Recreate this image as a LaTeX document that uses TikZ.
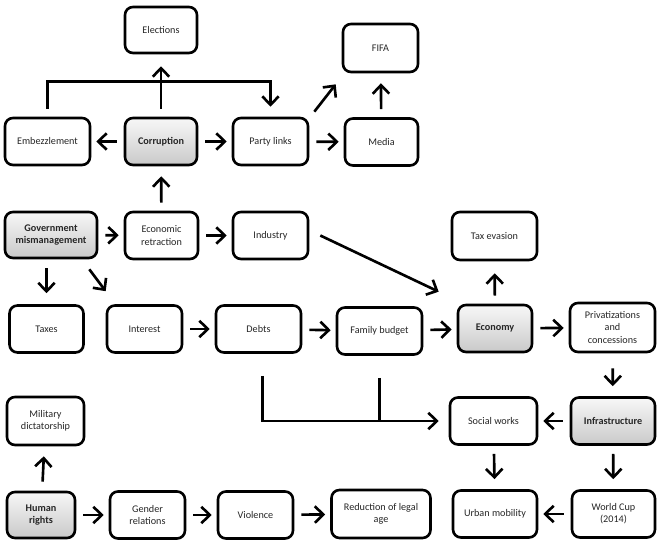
\documentclass[tikz,border=0pt]{standalone}
\usepackage{fontspec}
\setmainfont{Carlito}
\usetikzlibrary{arrows.meta,calc}

\tikzset{
  box/.style={draw, line width=1.5pt, rounded corners=0.16cm, align=center,
    minimum width=1.5cm, minimum height=0.94cm, inner sep=1pt,
    text=black!85, font=\fontsize{5.8}{7}\selectfont},
  keybox/.style={box, top color=gray!6, bottom color=gray!42,
    font=\fontsize{5.8}{7}\selectfont\bfseries},
  harr/.style={->, line width=1.5pt, shorten <=0.14cm, shorten >=0.1cm},
  varr/.style={->, line width=1.5pt, shorten <=0.18cm, shorten >=0.22cm},
  link/.style={line width=1.5pt}
}

\begin{document}
\begin{tikzpicture}[>={Straight Barb[length=1.7mm,width=3.3mm]}]
\useasboundingbox (0,0) rectangle (13.18,-10.92);

% Top rows
\node[box, minimum width=1.44cm, minimum height=0.92cm] (elections) at (3.22,-0.60) {Elections};
\node[box, minimum width=1.70cm] (embezzlement) at (0.95,-2.83) {Embezzlement};
\node[keybox, minimum width=1.44cm] (corruption) at (3.22,-2.83) {Corruption};
\node[box] (partylinks) at (5.41,-2.83) {Party links};
\node[box, minimum height=0.96cm] (fifa) at (7.61,-0.96) {FIFA};
\node[box, minimum width=1.46cm] (media) at (7.63,-2.84) {Media};

\node[keybox, minimum width=1.84cm, minimum height=0.92cm] (govmis) at (1.02,-4.70) {Government\\mismanagement};
\node[box, minimum width=1.46cm] (econret) at (3.23,-4.71) {Economic\\retraction};
\node[box] (industry) at (5.41,-4.71) {Industry};
\node[box, minimum width=1.70cm, minimum height=0.96cm] (taxevasion) at (9.89,-4.72) {Tax evasion};

% Middle rows
\node[box, minimum width=1.48cm] (taxes) at (0.93,-6.58) {Taxes};
\node[box] (interest) at (2.89,-6.58) {Interest};
\node[box, minimum width=1.70cm] (debts) at (5.17,-6.58) {Debts};
\node[box, minimum width=1.70cm] (familybudget) at (7.59,-6.62) {Family budget};
\node[keybox, minimum width=1.48cm] (economy) at (9.90,-6.57) {Economy};
\node[box, minimum width=1.70cm, minimum height=0.98cm] (privat) at (12.25,-6.55) {Privatizations\\and\\concessions};

\node[box, minimum width=1.54cm, minimum height=0.96cm] (military) at (0.91,-8.42) {Military\\dictatorship};
\node[box, minimum width=1.74cm] (socialworks) at (9.87,-8.42) {Social works};
\node[keybox, minimum width=1.68cm] (infrastructure) at (12.26,-8.42) {Infrastructure};

% Bottom row
\node[keybox, minimum width=1.36cm, minimum height=0.92cm] (humanrights) at (0.82,-10.30) {Human\\rights};
\node[box] (gender) at (2.95,-10.30) {Gender\\relations};
\node[box] (violence) at (5.11,-10.30) {Violence};
\node[box, minimum width=1.98cm, minimum height=0.96cm] (reduction) at (7.62,-10.28) {Reduction of legal\\age};
\node[box, minimum width=1.68cm] (urban) at (9.90,-10.28) {Urban mobility};
\node[box, minimum width=1.66cm] (worldcup) at (12.27,-10.28) {World Cup\\(2014)};

% Corruption block
\draw[harr] (corruption) -- (embezzlement);
\draw[harr] (corruption) -- (partylinks);
\draw[harr] (partylinks) -- (media);
\draw[->, line width=1.5pt, shorten <=0.16cm, shorten >=0.24cm] (corruption) -- (elections);
\draw[->, line width=1.5pt, shorten <=0.16cm, shorten >=0.2cm] (embezzlement.north) -- ++(0,0.7) -| (partylinks.north);
\draw[->, line width=1.5pt, shorten <=0.16cm, shorten >=0.2cm] (media) -- (fifa);
\draw[->, line width=1.5pt] ($(partylinks.north east)+(0.1,0.1)$) -- ($(fifa.south west)+(-0.12,-0.22)$);

% Mismanagement block
\draw[harr] (govmis) -- (econret);
\draw[harr] (econret) -- (industry);
\draw[->, line width=1.5pt, shorten <=0.16cm, shorten >=0.2cm] (econret) -- (corruption);
\draw[varr] (govmis.south -| taxes.north) -- (taxes.north);
\draw[->, line width=1.5pt] ($(govmis.south east)+(-0.18,-0.2)$) -- ($(interest.north west)+(0,0.26)$);
\draw[->, line width=1.5pt] ($(industry.east)+(0.22,0)$) -- ($(economy.north west)+(-0.36,0.24)$);

% Debts and economy
\draw[harr] (interest) -- (debts);
\draw[harr] (debts) -- (familybudget);
\draw[harr] (familybudget) -- (economy);
\draw[harr] (economy) -- (privat);
\draw[->, line width=1.5pt, shorten <=0.16cm, shorten >=0.24cm] (economy) -- (taxevasion);
\draw[->, line width=1.5pt, shorten <=0.3cm, shorten >=0.2cm] (privat) -- (infrastructure);
\draw[->, line width=1.5pt, shorten <=0.44cm, shorten >=0.2cm] ($(debts.south)+(0.08,0)$) |- (socialworks.west);
\draw[link, shorten <=0.44cm] (familybudget.south) -- (familybudget.south |- socialworks.west);

% Infrastructure block
\draw[harr] (infrastructure) -- (socialworks);
\draw[varr, shorten <=0.16cm, shorten >=0.2cm] (socialworks) -- (urban);
\draw[varr, shorten <=0.16cm, shorten >=0.2cm] (infrastructure) -- (worldcup);
\draw[harr] (worldcup) -- (urban);

% Human rights
\draw[varr, shorten <=0.18cm, shorten >=0.2cm] (humanrights) -- (military);
\draw[harr] (humanrights) -- (gender);
\draw[harr] (gender) -- (violence);
\draw[harr] (violence) -- (reduction);
\end{tikzpicture}
\end{document}
